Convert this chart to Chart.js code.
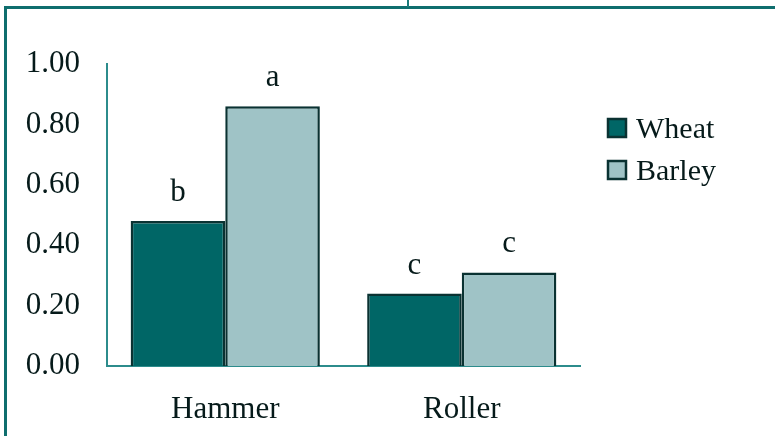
<!DOCTYPE html>
<html>
<head>
<meta charset="utf-8">
<script src="https://cdn.jsdelivr.net/npm/chart.js@4/dist/chart.umd.min.js"></script>
<style>
 body{margin:0;background:#fff;}
 #wrap{position:relative;width:775px;height:436px;overflow:hidden;}
 #frame{position:absolute;left:4px;top:6px;right:-10px;bottom:-10px;border-top:3px solid #0f6e6e;border-left:3px solid #0f6e6e;}
 #tick{position:absolute;left:407px;top:0;width:2px;height:7px;background:#1a7a7a;}
 canvas{position:absolute;left:0;top:0;}
</style>
</head>
<body>
<div id="wrap">
 <div id="frame"></div>
 <div id="tick"></div>
 <canvas id="chart" width="775" height="436"></canvas>
</div>
<script>
/* ===== data ===== */
const categories = ["Hammer","Roller"];
const seriesNames = ["Wheat","Barley"];
const wheat = [0.48, 0.24];
const barley = [0.86, 0.31];
const wheatLetters = ["b","c"];
const barleyLetters = ["a","c"];
const yTicks = [0, 0.2, 0.4, 0.6, 0.8, 1.0];

const FONT = "'Liberation Serif', 'Times New Roman', serif";
const INK = "#061a1a";
const fills = ["#006666","#9fc3c6"];
const edge = "#0a3232";

/* ===== letters above bars ===== */
const letterPlugin = {
 id:"letters",
 afterDatasetsDraw(c){
  const ctx=c.ctx;
  ctx.save();
  ctx.font="31px "+FONT;
  ctx.fillStyle=INK;
  ctx.textAlign="center";
  ctx.textBaseline="alphabetic";
  c.data.datasets.forEach((ds,i)=>{
   c.getDatasetMeta(i).data.forEach((bar,j)=>{
    ctx.fillText(ds.letters[j],bar.x,bar.y-20);
   });
  });
  ctx.restore();
 }
};

/* ===== legend ===== */
const legendPlugin = {
 id:"sideLegend",
 afterDraw(c){
  const ctx=c.ctx;
  const x=c.chartArea.right+28, y0=c.chartArea.top+64;
  ctx.save();
  ctx.font="30px "+FONT;
  ctx.textBaseline="middle";
  c.data.datasets.forEach((ds,i)=>{
   const y=y0+i*42;
   ctx.fillStyle=ds.backgroundColor;
   ctx.fillRect(x,y-9,18,18);
   ctx.strokeStyle=edge;
   ctx.lineWidth=2.5;
   ctx.strokeRect(x,y-9,18,18);
   ctx.fillStyle=INK;
   ctx.fillText(ds.label,x+28,y+2);
  });
  ctx.restore();
 }
};

new Chart(document.getElementById("chart"),{
 type:"bar",
 data:{
  labels:categories,
  datasets:[
   {label:seriesNames[0],data:wheat,letters:wheatLetters,backgroundColor:fills[0]},
   {label:seriesNames[1],data:barley,letters:barleyLetters,backgroundColor:fills[1]}
  ]
 },
 options:{
  responsive:false,
  animation:false,
  layout:{padding:{left:0,top:64,right:195,bottom:0}},
  datasets:{bar:{categoryPercentage:0.8,barPercentage:1,borderWidth:2.5,borderColor:edge}},
  plugins:{legend:{display:false},tooltip:{enabled:false}},
  scales:{
   x:{
    grid:{display:false,drawTicks:false},
    border:{color:"#2c8c8c",width:2},
    ticks:{color:INK,font:{family:FONT,size:31},padding:25},
    afterFit(s){s.height=70;}
   },
   y:{
    min:0,max:1,
    grid:{display:false,drawTicks:false},
    border:{color:"#2c8c8c",width:2},
    afterBuildTicks(s){s.ticks=yTicks.map(v=>({value:v}));},
    ticks:{color:INK,font:{family:FONT,size:31},padding:27,callback:v=>Number(v).toFixed(2)},
    afterFit(s){s.width=107;}
   }
  }
 },
 plugins:[letterPlugin,legendPlugin]
});
</script>
</body>
</html>
